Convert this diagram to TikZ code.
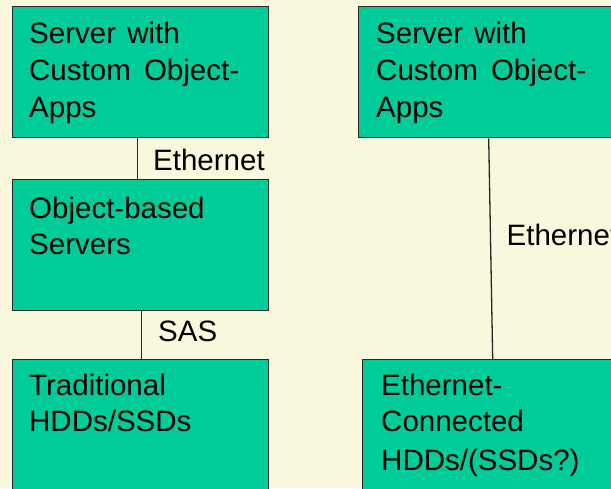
\documentclass[tikz,border=0pt]{standalone}
\usepackage{fontspec}
\setmainfont{Liberation Sans}
\definecolor{paper}{RGB}{250,248,220}
\definecolor{teal}{RGB}{0,204,153}
\definecolor{edge}{RGB}{40,40,40}
\begin{document}
\begin{tikzpicture}[x=1pt,y=-1pt,
  stackbox/.style={draw=edge,line width=1.4pt,fill=teal,rectangle,inner sep=0pt,anchor=north west},
  line/.style={anchor=base west,inner sep=0pt,font=\fontsize{29.5}{36}\selectfont},
  link/.style={draw=edge,line width=1.3pt}]
  % page
  \useasboundingbox (0,0) rectangle (611,488);
  \clip (0,0) rectangle (611,488);
  \fill[paper] (0,0) rectangle (611,488);

  % left column: app server -> object servers -> drives
  \node[stackbox,minimum width=256,minimum height=131] (a1) at (12,6) {};
  \node[stackbox,minimum width=256,minimum height=131] (a2) at (12,179) {};
  \node[stackbox,minimum width=256,minimum height=160] (a3) at (12,359) {};
  \draw[link] ([xshift=-3]a1.south) -- ([xshift=-3]a2.north);
  \draw[link] ([xshift=1]a2.south) -- ([xshift=1]a3.north);

  \node[line] (a1l1) at (29,43.5) {Server\hspace{3pt} with};
  \node[line] (a1l2) at (29,80.5) {Custom\hspace{5pt} Object-};
  \node[line] (a1l3) at (29,117.5) {Apps};
  \node[line] (a2l1) at (29,218.5) {Object-based};
  \node[line] (a2l2) at (29,254) {Servers};
  \node[line] (a3l1) at (29,395) {Traditional};
  \node[line] (a3l2) at (29,431.5) {HDDs/SSDs};
  \node[line] (eth1) at (153,170) {Ethernet};
  \node[line] (sas) at (158,341.5) {SAS};

  % right column: app server -> ethernet drives
  \node[stackbox,minimum width=260,minimum height=131] (b1) at (358,6) {};
  \node[stackbox,minimum width=260,minimum height=160] (b2) at (362,359) {};
  \draw[link] (b1.south) -- (b2.north);

  \node[line] (b1l1) at (376,43.5) {Server\hspace{3pt} with};
  \node[line] (b1l2) at (376,80.5) {Custom\hspace{5pt} Object-};
  \node[line] (b1l3) at (376,117.5) {Apps};
  \node[line] (b2l1) at (381,395) {Ethernet-};
  \node[line] (b2l2) at (381,431.5) {Connected};
  \node[line] (b2l3) at (381,470) {HDDs/(SSDs?)};
  \node[line] (eth2) at (506.5,245) {Ethernet};
\end{tikzpicture}
\end{document}
